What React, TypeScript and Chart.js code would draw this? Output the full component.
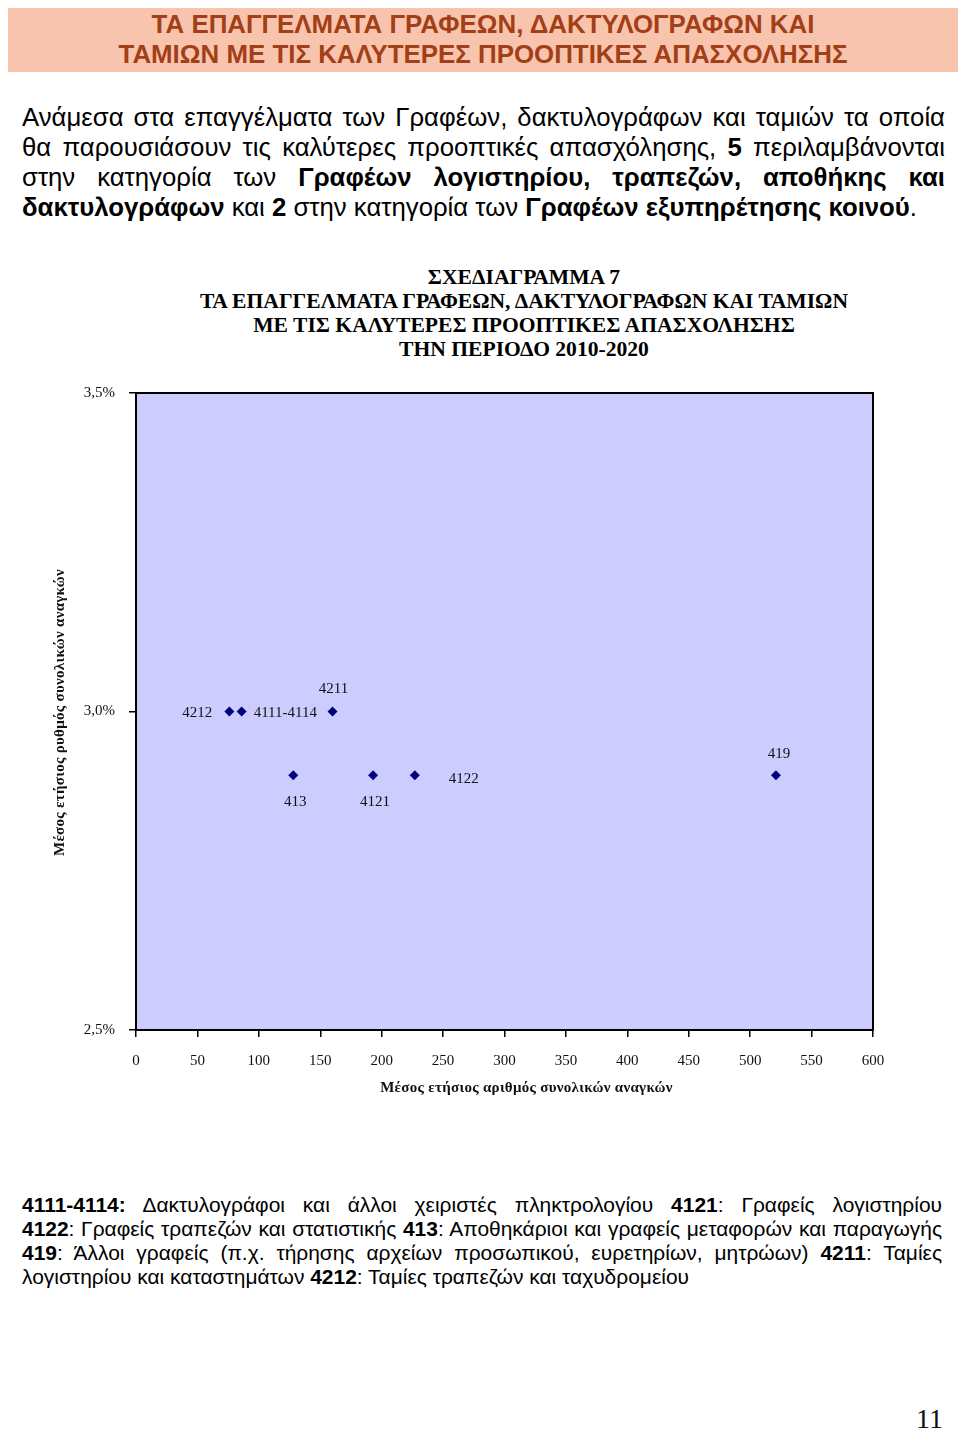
import React, { useEffect, useLayoutEffect, useRef, useState } from 'react';
import { Chart, registerables } from 'chart.js';

Chart.register(...registerables);

// ---- Data ----
const occupationCodes = ['4212', '4111-4114', '4211', '413', '4121', '4122', '419'];
const avgAnnualNeeds = [76, 86, 160, 128, 193, 227, 521];
const avgAnnualGrowthPct = [3.0, 3.0, 3.0, 2.9, 2.9, 2.9, 2.9];
const xAxisTicks = { min: 0, max: 600, step: 50 };
const yAxisTicks = { min: 2.5, max: 3.5, step: 0.5 };

const chartTitleLines = [
  'ΣΧΕΔΙΑΓΡΑΜΜΑ 7',
  'ΤΑ ΕΠΑΓΓΕΛΜΑΤΑ ΓΡΑΦΕΩΝ, ΔΑΚΤΥΛΟΓΡΑΦΩΝ ΚΑΙ ΤΑΜΙΩΝ',
  'ΜΕ ΤΙΣ ΚΑΛΥΤΕΡΕΣ ΠΡΟΟΠΤΙΚΕΣ ΑΠΑΣΧΟΛΗΣΗΣ',
  'ΤΗΝ ΠΕΡΙΟΔΟ 2010-2020',
];
const xAxisTitle = 'Μέσος ετήσιος αριθμός συνολικών αναγκών';
const yAxisTitle = 'Μέσος ετήσιος ρυθμός συνολικών αναγκών';

type Seg = [string, boolean];
type Line = Seg[];

const headerLines: Line[] = [
  [['ΤΑ ΕΠΑΓΓΕΛΜΑΤΑ ΓΡΑΦΕΩΝ, ΔΑΚΤΥΛΟΓΡΑΦΩΝ ΚΑΙ', true]],
  [['ΤΑΜΙΩΝ ΜΕ ΤΙΣ ΚΑΛΥΤΕΡΕΣ ΠΡΟΟΠΤΙΚΕΣ ΑΠΑΣΧΟΛΗΣΗΣ', true]],
];

const introLines: Line[] = [
  [['Ανάμεσα στα επαγγέλματα των Γραφέων, δακτυλογράφων και ταμιών τα οποία', false]],
  [['θα παρουσιάσουν τις καλύτερες προοπτικές απασχόλησης, ', false], ['5', true], [' περιλαμβάνονται', false]],
  [['στην κατηγορία των ', false], ['Γραφέων λογιστηρίου, τραπεζών, αποθήκης και', true]],
  [['δακτυλογράφων', true], [' και ', false], ['2', true], [' στην κατηγορία των ', false], ['Γραφέων εξυπηρέτησης κοινού', true], ['.', false]],
];

const legendLines: Line[] = [
  [['4111-4114:', true], [' Δακτυλογράφοι και άλλοι χειριστές πληκτρολογίου ', false], ['4121', true], [': Γραφείς λογιστηρίου', false]],
  [['4122', true], [': Γραφείς τραπεζών και στατιστικής ', false], ['413', true], [': Αποθηκάριοι και γραφείς μεταφορών και παραγωγής', false]],
  [['419', true], [': Άλλοι γραφείς (π.χ. τήρησης αρχείων προσωπικού, ευρετηρίων, μητρώων) ', false], ['4211', true], [': Ταμίες', false]],
  [['λογιστηρίου και καταστημάτων ', false], ['4212', true], [': Ταμίες τραπεζών και ταχυδρομείου', false]],
];

// label placement relative to each point (style only)
const LABEL_STYLE: Record<string, { align: CanvasTextAlign; dx: number; dy: number }> = {
  '4212': { align: 'right', dx: -17, dy: 2 },
  '4111-4114': { align: 'left', dx: 12, dy: 2 },
  '4211': { align: 'center', dx: 1, dy: -22 },
  '413': { align: 'center', dx: 2, dy: 27 },
  '4121': { align: 'center', dx: 2, dy: 27 },
  '4122': { align: 'left', dx: 34, dy: 4 },
  '419': { align: 'center', dx: 3, dy: -21 },
};

const fmtPct = (v: number) => v.toFixed(1).replace('.', ',') + '%';

function renderSegs(line: Line) {
  return line.map(([t, b], i) => (
    <span key={i} style={{ fontWeight: b ? 700 : 400 }}>{t}</span>
  ));
}

function Fitted(props: {
  lines: Line[]; left: number; top: number; width: number; fontSize: number; lineHeight: number;
  fontFamily: string; color: string; fitLine: number; fitWidth: number; align: 'center' | 'justify';
}) {
  const { lines, left, top, width, fontSize, lineHeight, fontFamily, color, fitLine, fitWidth, align } = props;
  const measRef = useRef<HTMLSpanElement>(null);
  const [s, setS] = useState(1);
  useLayoutEffect(() => {
    const w = measRef.current ? measRef.current.getBoundingClientRect().width : 0;
    if (w > 0) setS(fitWidth / w);
  }, [fitWidth]);
  return (
    <div style={{ position: 'absolute', left, top, width, fontFamily, fontSize, lineHeight: lineHeight + 'px', color }}>
      <span ref={measRef} style={{ position: 'absolute', left: 0, top: 0, visibility: 'hidden', whiteSpace: 'nowrap' }}>
        {renderSegs(lines[fitLine])}
      </span>
      <div style={{ width: width / s, transform: `scaleX(${s})`, transformOrigin: 'left top' }}>
        {lines.map((ln, i) => (
          <div
            key={i}
            style={{
              textAlign: align === 'center' ? 'center' : 'justify',
              textAlignLast: align === 'center' ? 'center' : i === lines.length - 1 ? 'left' : 'justify',
            } as React.CSSProperties}
          >
            {renderSegs(ln)}
          </div>
        ))}
      </div>
    </div>
  );
}

const plotBoxPlugin = {
  id: 'plotBox',
  beforeDraw(chart: any) {
    const { ctx, chartArea } = chart;
    const { left, top, width, height } = chartArea;
    ctx.save();
    ctx.fillStyle = '#ccccff';
    ctx.fillRect(left, top, width, height);
    ctx.restore();
  },
  afterDraw(chart: any) {
    const { ctx, chartArea } = chart;
    const { left, top, width, height, bottom } = chartArea;
    ctx.save();
    ctx.strokeStyle = '#000';
    ctx.lineWidth = 2;
    ctx.strokeRect(left, top, width, height);

    // point labels
    const meta = chart.getDatasetMeta(0);
    ctx.font = '15px "Liberation Serif"';
    ctx.fillStyle = '#111';
    ctx.textBaseline = 'middle';
    meta.data.forEach((pt: any, i: number) => {
      const code = occupationCodes[i];
      const st = LABEL_STYLE[code] || { align: 'center', dx: 0, dy: -18 };
      ctx.textAlign = st.align;
      ctx.fillText(code, pt.x + st.dx, pt.y + st.dy);
    });

    // axis titles (letter-spaced like the original)
    ctx.font = 'bold 15px "Liberation Serif"';
    ctx.textAlign = 'center';
    try { (ctx as any).letterSpacing = '0.3px'; } catch (e) { /* ignore */ }
    ctx.fillText(xAxisTitle, left + width / 2 + 22, bottom + 58);
    ctx.translate(20, top + height / 2 + 1);
    ctx.rotate(-Math.PI / 2);
    ctx.fillText(yAxisTitle, 0, 0);
    ctx.restore();
  },
};

function ScatterChart() {
  const canvasRef = useRef<HTMLCanvasElement>(null);
  useEffect(() => {
    if (!canvasRef.current) return;
    const serif = 'Liberation Serif';
    const chart = new Chart(canvasRef.current, {
      type: 'scatter',
      data: {
        datasets: [
          {
            data: avgAnnualNeeds.map((x, i) => ({ x, y: avgAnnualGrowthPct[i] })),
            pointStyle: 'rectRot',
            pointRadius: 5,
            pointHoverRadius: 5,
            backgroundColor: '#000080',
            borderColor: '#000080',
            borderWidth: 0,
          },
        ],
      },
      options: {
        responsive: false,
        animation: false,
        layout: { padding: { top: 23, right: 47, bottom: 0, left: 0 } },
        plugins: { legend: { display: false }, tooltip: { enabled: false }, title: { display: false } },
        scales: {
          x: {
            type: 'linear',
            min: xAxisTicks.min,
            max: xAxisTicks.max,
            ticks: { stepSize: xAxisTicks.step, padding: 15, color: '#111', font: { family: serif, size: 15 } },
            grid: { drawOnChartArea: false, drawTicks: true, tickLength: 7, color: '#000', lineWidth: 1.5 },
            border: { display: false },
            title: { display: false },
            afterFit(scale: any) { scale.height = 82; },
          },
          y: {
            type: 'linear',
            min: yAxisTicks.min,
            max: yAxisTicks.max,
            ticks: { stepSize: yAxisTicks.step, padding: 14, color: '#111', font: { family: serif, size: 15 }, callback: (v: any) => fmtPct(Number(v)) },
            grid: { drawOnChartArea: false, drawTicks: true, tickLength: 7, color: '#000', lineWidth: 1.5 },
            border: { display: false },
            title: { display: false },
            afterFit(scale: any) { scale.width = 96; },
          },
        },
      },
      plugins: [plotBoxPlugin],
    } as any);
    return () => chart.destroy();
  }, []);
  return (
    <canvas ref={canvasRef} width={880} height={742} style={{ position: 'absolute', left: 40, top: 370, width: 880, height: 742 }} />
  );
}

export default function App() {
  return (
    <div style={{ position: 'absolute', left: 0, top: 0, width: 960, height: 1434, overflow: 'hidden', background: '#fff' }}>
      <div style={{ position: 'absolute', left: 8, top: 8, width: 950, height: 64, background: '#f9c4ae' }} />
      <Fitted
        lines={headerLines} left={8} top={9} width={950} fontSize={25} lineHeight={30}
        fontFamily='"Liberation Sans", Arial, sans-serif' color='#a33f17' fitLine={1} fitWidth={729} align='center'
      />
      <Fitted
        lines={introLines} left={22} top={102} width={923} fontSize={26} lineHeight={30}
        fontFamily='"Liberation Sans", Arial, sans-serif' color='#000' fitLine={3} fitWidth={895} align='justify'
      />
      <Fitted
        lines={chartTitleLines.map((t) => [[t, true]] as Line)} left={124} top={265} width={800} fontSize={22} lineHeight={24}
        fontFamily='"Liberation Serif", "Times New Roman", serif' color='#000' fitLine={1} fitWidth={648} align='center'
      />
      <ScatterChart />
      <Fitted
        lines={legendLines} left={22} top={1193} width={920} fontSize={21} lineHeight={24}
        fontFamily='"Liberation Sans", Arial, sans-serif' color='#000' fitLine={3} fitWidth={667} align='justify'
      />
      <div style={{ position: 'absolute', right: 17, top: 1402, fontFamily: '"Liberation Serif", serif', fontSize: 28, lineHeight: '34px', color: '#111' }}>11</div>
    </div>
  );
}
